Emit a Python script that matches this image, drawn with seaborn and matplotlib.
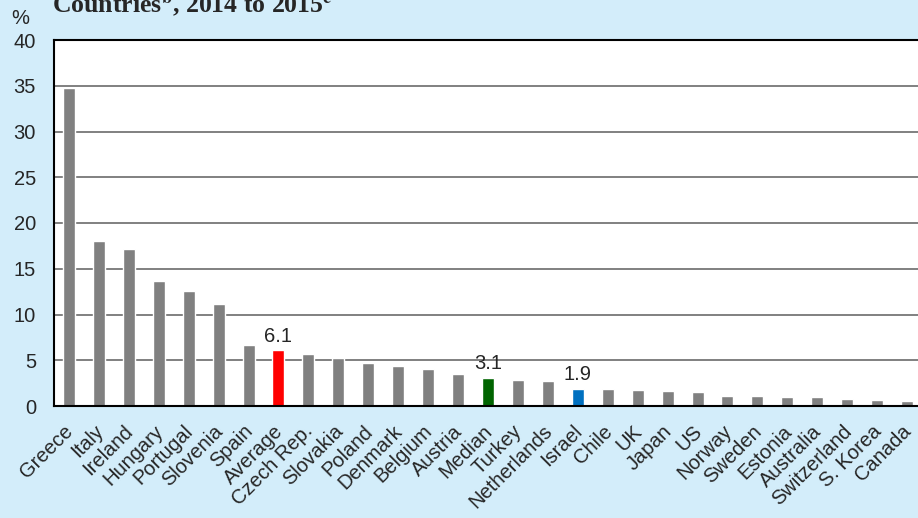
import numpy as np
import pandas as pd
import seaborn as sns
import matplotlib.pyplot as plt

countries = ['Greece', 'Italy', 'Ireland', 'Hungary', 'Portugal', 'Slovenia', 'Spain',
             'Average', 'Czech Rep.', 'Slovakia', 'Poland', 'Denmark', 'Belgium', 'Austria',
             'Median', 'Turkey', 'Netherlands', 'Israel', 'Chile', 'UK', 'Japan', 'US',
             'Norway', 'Sweden', 'Estonia', 'Australia', 'Switzerland', 'S. Korea', 'Canada']
values = [34.7, 18.0, 17.2, 13.7, 12.6, 11.1, 6.7,
          6.1, 5.7, 5.2, 4.7, 4.4, 4.0, 3.5,
          3.1, 2.8, 2.7, 1.9, 1.85, 1.8, 1.65, 1.55,
          1.1, 1.1, 1.0, 1.0, 0.75, 0.65, 0.55]
highlight = {'Average': '#ff0000', 'Median': '#006400', 'Israel': '#0070c0'}
yticks = [0, 5, 10, 15, 20, 25, 30, 35, 40]

df = pd.DataFrame({'Country': countries, 'Value': values})
palette = {c: highlight.get(c, '#808080') for c in countries}

sns.set_style('white')
plt.rcParams['font.family'] = ['Liberation Sans', 'DejaVu Sans']
plt.rcParams['mathtext.fontset'] = 'stix'

fig = plt.figure(figsize=(9.18, 5.18), dpi=100, facecolor='#d3edfa')
ax = fig.add_axes([54 / 918, 112 / 518, 868 / 918, 366 / 518])
ax.set_facecolor('white')

sns.barplot(data=df, x='Country', y='Value', hue='Country', palette=palette,
            width=0.4, legend=False, ax=ax, saturation=1)

ax.set_xlim(-0.5, len(countries) - 0.5)
ax.set_ylim(0, 40)
ax.set_yticks(yticks)
ax.set_yticklabels([str(t) for t in yticks], fontsize=14.5)
ax.yaxis.grid(True, color='#808080', linewidth=1.4)
ax.set_axisbelow(True)
ax.tick_params(axis='y', length=0, pad=13)

ax.set_xticks(range(len(countries)))
ax.set_xticklabels(countries, rotation=45, ha='right', va='center_baseline',
                   rotation_mode='anchor', fontsize=14.5)
ax.tick_params(axis='x', which='major', length=0, pad=15)
ax.set_xticks(np.arange(0.5, len(countries) - 0.5, 1), minor=True)
ax.tick_params(axis='x', which='minor', direction='in', length=4, color='#a0a0a0', width=1)
ax.set_xlabel('')
ax.set_ylabel('')

for side in ['left', 'bottom', 'top']:
    ax.spines[side].set_color('black')
    ax.spines[side].set_linewidth(1.5)
ax.spines['right'].set_visible(False)

for name in highlight:
    i = countries.index(name)
    ax.text(i, values[i] + 0.5, f'{values[i]:.1f}', ha='center', va='bottom', fontsize=14.5)

fig.text(20 / 918, 1 - 19 / 518, '%', fontsize=14.5, ha='center', va='center')
fig.text(52 / 918, 1 - 13 / 518, r'Countries$^{\mathbf{b}}$, 2014 to 2015$^{\mathbf{c}}$',
         family='Liberation Serif', fontweight='bold', fontsize=18.5, va='baseline', ha='left')

fig.savefig('out.png', dpi=100, facecolor=fig.get_facecolor())
